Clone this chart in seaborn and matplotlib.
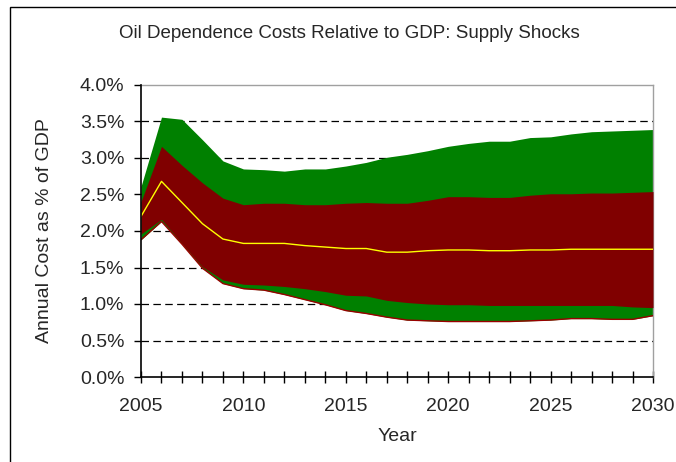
#!/usr/bin/env python3
"""Oil dependence costs relative to GDP under supply shocks: band chart."""

import matplotlib
matplotlib.use("Agg")
import matplotlib.pyplot as plt
from matplotlib.patches import Rectangle
from matplotlib.ticker import FuncFormatter, MultipleLocator
import pandas as pd
import seaborn as sns

YEARS = list(range(2005, 2031))

# outer band (green), percent of GDP
GREEN_HIGH = [2.61, 3.56, 3.53, 3.25, 2.96, 2.85, 2.84, 2.82, 2.85, 2.85, 2.89, 2.94, 3.01,
              3.05, 3.10, 3.16, 3.20, 3.23, 3.23, 3.28, 3.29, 3.33, 3.36, 3.37, 3.38, 3.39]
GREEN_LOW = [1.88, 2.13, 1.82, 1.49, 1.28, 1.21, 1.19, 1.13, 1.06, 0.99, 0.91, 0.87, 0.82,
             0.78, 0.77, 0.76, 0.76, 0.76, 0.76, 0.77, 0.78, 0.80, 0.80, 0.79, 0.79, 0.84]

# inner band (dark red)
RED_HIGH = [2.40, 3.16, 2.90, 2.66, 2.45, 2.36, 2.38, 2.38, 2.36, 2.36, 2.38, 2.39, 2.38,
            2.38, 2.42, 2.47, 2.47, 2.46, 2.46, 2.49, 2.51, 2.51, 2.52, 2.52, 2.53, 2.54]
RED_LOW = [1.96, 2.16, 1.83, 1.51, 1.33, 1.27, 1.26, 1.24, 1.21, 1.17, 1.12, 1.11, 1.05,
           1.02, 1.00, 0.99, 0.99, 0.98, 0.98, 0.98, 0.98, 0.98, 0.98, 0.98, 0.96, 0.95]

# central estimate (yellow line)
MEDIAN = [2.20, 2.68, 2.39, 2.10, 1.89, 1.83, 1.83, 1.83, 1.80, 1.78, 1.76, 1.76, 1.71,
          1.71, 1.73, 1.74, 1.74, 1.73, 1.73, 1.74, 1.74, 1.75, 1.75, 1.75, 1.75, 1.75]

sns.set_theme(style="white")
plt.rcParams["font.family"] = ["Liberation Sans", "DejaVu Sans"]

df = pd.DataFrame({
    "year": YEARS,
    "green_high": GREEN_HIGH,
    "green_low": GREEN_LOW,
    "red_high": RED_HIGH,
    "red_low": RED_LOW,
    "median": MEDIAN,
})

fig = plt.figure(figsize=(6.76, 4.62), dpi=100)
fig.patch.set_facecolor("white")
ax = fig.add_axes([141 / 676, 1 - 377 / 462, 512 / 676, 292 / 462])

# outer chart-area border (runs off the right and bottom edges)
fig.patches.append(Rectangle((10 / 676, -0.1), 1.2, 1 - 7 / 462 + 0.1,
                             transform=fig.transFigure, fill=False,
                             edgecolor="black", linewidth=1.0, zorder=0))

ax.fill_between(df["year"], df["green_low"], df["green_high"], color="#008000",
                linewidth=0, zorder=2)
ax.fill_between(df["year"], df["red_low"], df["red_high"], color="#800000",
                linewidth=0, zorder=3)
sns.lineplot(data=df, x="year", y="green_low", color="#990000", linewidth=1.0,
             ax=ax, zorder=3)
sns.lineplot(data=df, x="year", y="median", color="#FFFF00", linewidth=1.0,
             ax=ax, zorder=4)

ax.set_xlim(2005, 2030)
ax.set_ylim(0, 4.0)
ax.xaxis.set_major_locator(MultipleLocator(5))
ax.xaxis.set_minor_locator(MultipleLocator(1))
ax.yaxis.set_major_locator(MultipleLocator(0.5))
ax.yaxis.set_major_formatter(FuncFormatter(lambda v, _: f"{v:.1f}%"))

for y in [0.5, 1.0, 1.5, 2.0, 2.5, 3.0, 3.5]:
    ax.axhline(y, color="black", linewidth=0.9, linestyle=(0, (6, 3.5)), zorder=1)

for side in ["top", "right"]:
    ax.spines[side].set_color("#a0a0a0")
    ax.spines[side].set_linewidth(1.0)
for side in ["left", "bottom"]:
    ax.spines[side].set_color("black")
    ax.spines[side].set_linewidth(1.2)
    ax.spines[side].set_zorder(5)

ax.tick_params(axis="x", which="both", direction="inout", length=8, width=1,
               color="black", bottom=True, labelsize=14, pad=11)
ax.tick_params(axis="y", which="major", direction="out", length=5, width=1,
               color="black", left=True, labelsize=14, pad=7)

ax.set_xlabel("Year", fontsize=14)
ax.set_ylabel("Annual Cost as % of GDP", fontsize=14)
ax.xaxis.set_label_coords(0.5, -(428 - 377) / 292)
ax.yaxis.set_label_coords(-(141 - 53) / 512, 0.5)
fig.text(349 / 676, 1 - 33 / 462, "Oil Dependence Costs Relative to GDP: Supply Shocks",
         ha="center", va="center", fontsize=13.5)

fig.savefig("out.png", dpi=100, facecolor="white")
